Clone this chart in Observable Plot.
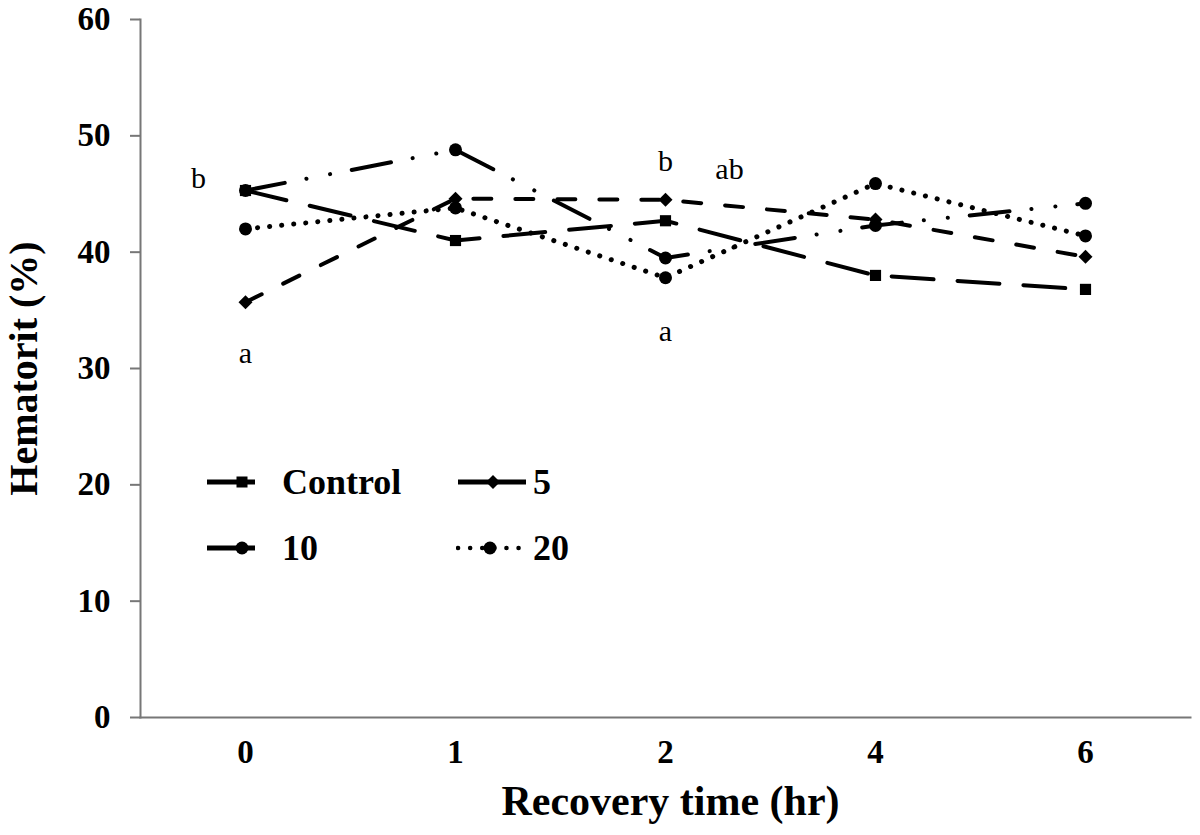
<!DOCTYPE html>
<html>
<head>
<meta charset="utf-8">
<script src="https://cdn.jsdelivr.net/npm/d3@7"></script>
<script src="https://cdn.jsdelivr.net/npm/@observablehq/plot@0.6"></script>
<style>
  html, body { margin: 0; padding: 0; background: #fff; }
  #wrap { position: relative; width: 1200px; height: 835px; font-family: "Liberation Serif", "Times New Roman", serif; }
  .leg { position: absolute; display: flex; align-items: center; font-weight: bold; font-size: 36px; color: #000; height: 40px; }
  .leg svg { display: block; flex: none; }
</style>
</head>
<body>
<div id="wrap"></div>
<script>
// ---- data ----
const times = ["0", "1", "2", "4", "6"];
const control = [45.3, 41.0, 42.7, 38.0, 36.8];
const dose5 = [35.7, 44.6, 44.5, 42.8, 39.6];
const dose10 = [45.3, 48.8, 39.5, 42.3, 44.2];
const dose20 = [42.0, 43.8, 37.8, 45.9, 41.4];
const seriesNames = ["Control", "5", "10", "20"];
const yTicks = [0, 10, 20, 30, 40, 50, 60];
const annLabels = ["b", "a", "b", "ab", "a"];
const annTimes = ["0", "0", "2", "2", "2"];
const annValues = [46.3, 31.3, 47.8, 47.1, 33.2];
const xTitle = "Recovery time (hr)";
const yTitle = "Hematorit (%)";

const toRows = (vals) => times.map((t, i) => ({time: t, value: vals[i]}));
const rowsC = toRows(control), rows5 = toRows(dose5), rows10 = toRows(dose10), rows20 = toRows(dose20);
const ann = annLabels.map((l, i) => ({label: l, time: annTimes[i], value: annValues[i]}));
const annShift = {"0:b": -47, "2:ab": 64};

const font = "'Liberation Serif', 'Times New Roman', serif";
const axisGray = "#777";

const chart = Plot.plot({
  width: 1200,
  height: 835,
  marginLeft: 140,
  marginRight: 10,
  marginTop: 19,
  marginBottom: 118,
  style: {fontFamily: font, background: "white", color: "black"},
  x: {type: "point", domain: times, padding: 0.5, label: null},
  y: {domain: [0, 60], label: null},
  marks: [
    Plot.frame({anchor: "left", stroke: axisGray, strokeWidth: 2}),
    Plot.frame({anchor: "bottom", stroke: axisGray, strokeWidth: 2}),
    Plot.axisY({ticks: yTicks, tickSize: 10, tickPadding: 20, stroke: axisGray, strokeWidth: 2, fill: "black", fontSize: 33, fontWeight: "bold", label: null}),
    Plot.axisX({tickSize: 0, tickPadding: 22, fill: "black", fontSize: 33, fontWeight: "bold", label: null}),
    Plot.line(rowsC, {x: "time", y: "value", stroke: "black", strokeWidth: 4, strokeLinecap: "round", strokeDasharray: "42,24"}),
    Plot.line(rows5, {x: "time", y: "value", stroke: "black", strokeWidth: 4, strokeLinecap: "round", strokeDasharray: "18,24"}),
    Plot.line(rows10, {x: "time", y: "value", stroke: "black", strokeWidth: 4, strokeLinecap: "round", strokeDasharray: "40,22,0.1,24,0.1,22"}),
    Plot.line(rows20, {x: "time", y: "value", stroke: "black", strokeWidth: 5, strokeLinecap: "round", strokeDasharray: "0.1,12"}),
    Plot.dot(rows20, {x: "time", y: "value", symbol: "circle", r: 6.5, fill: "black"}),
    Plot.dot(rows10, {x: "time", y: "value", symbol: "circle", r: 6.5, fill: "black"}),
    Plot.dot(rows5, {x: "time", y: "value", symbol: "diamond2", r: 6.3, fill: "black"}),
    Plot.dot(rowsC, {x: "time", y: "value", symbol: "square", r: 6.3, fill: "black"}),
    Plot.text(ann, {x: "time", y: "value", text: "label", fontSize: 30, fill: "black"}),
    Plot.text([xTitle], {frameAnchor: "bottom", dy: 97, dx: 5, fontSize: 42, fontWeight: "bold", fill: "black"}),
    Plot.text([yTitle], {frameAnchor: "left", textAnchor: "middle", lineAnchor: "middle", rotate: -90, dx: -116, fontSize: 40, fontWeight: "bold", fill: "black"})
  ]
});

document.getElementById("wrap").appendChild(chart);

// horizontal offsets for the letter annotations (b left of 0, ab right of 2)
(function() {
  const g = chart.querySelector("g[aria-label='text']");
  if (g) {
    g.querySelectorAll("text").forEach((t, i) => {
      const a = ann[i];
      const s = annShift[a.time + ":" + a.label];
      if (s) {
        const tr = t.getAttribute("transform") || "";
        t.setAttribute("transform", tr + ` translate(${s},0)`);
      }
    });
  }
})();

// ---- legend (overlay inside plot area, as in the reference) ----
function sample(kind, sym) {
  const ns = "http://www.w3.org/2000/svg";
  const w = kind === "short" ? 52 : 72, h = 20, cy = 10;
  const cx = kind === "short" ? 37 : (kind === "dot" ? 34 : 37);
  const svg = document.createElementNS(ns, "svg");
  svg.setAttribute("width", w); svg.setAttribute("height", h);
  const line = document.createElementNS(ns, "line");
  line.setAttribute("y1", cy); line.setAttribute("y2", cy);
  line.setAttribute("stroke", "black");
  if (kind === "dot") {
    line.setAttribute("x1", 2); line.setAttribute("x2", 67);
    line.setAttribute("stroke-width", 4.5); line.setAttribute("stroke-linecap", "round");
    line.setAttribute("stroke-dasharray", "0.1,12");
  } else {
    line.setAttribute("x1", 2); line.setAttribute("x2", w - 2);
    line.setAttribute("stroke-width", 5);
  }
  svg.appendChild(line);
  let m;
  if (sym === "square") {
    m = document.createElementNS(ns, "rect");
    m.setAttribute("x", cx - 5.5); m.setAttribute("y", cy - 5.5); m.setAttribute("width", 11); m.setAttribute("height", 11);
  } else if (sym === "diamond") {
    m = document.createElementNS(ns, "path");
    m.setAttribute("d", `M${cx},${cy-7}L${cx+7},${cy}L${cx},${cy+7}L${cx-7},${cy}Z`);
  } else {
    m = document.createElementNS(ns, "circle");
    m.setAttribute("cx", cx); m.setAttribute("cy", cy); m.setAttribute("r", 6.5);
  }
  m.setAttribute("fill", "black");
  svg.appendChild(m);
  return svg;
}
const legendItems = [
  {name: seriesNames[0], kind: "short", sym: "square", left: 205, top: 462, gap: 25},
  {name: seriesNames[1], kind: "long", sym: "diamond", left: 456, top: 462, gap: 5},
  {name: seriesNames[2], kind: "short", sym: "circle", left: 205, top: 528, gap: 25},
  {name: seriesNames[3], kind: "dot", sym: "circle", left: 456, top: 528, gap: 5}
];
const wrap = document.getElementById("wrap");
legendItems.forEach(it => {
  const d = document.createElement("div");
  d.className = "leg";
  d.style.left = it.left + "px";
  d.style.top = it.top + "px";
  const s = sample(it.kind, it.sym);
  s.style.marginRight = it.gap + "px";
  d.appendChild(s);
  const span = document.createElement("span");
  span.textContent = it.name;
  d.appendChild(span);
  wrap.appendChild(d);
});
</script>
</body>
</html>
